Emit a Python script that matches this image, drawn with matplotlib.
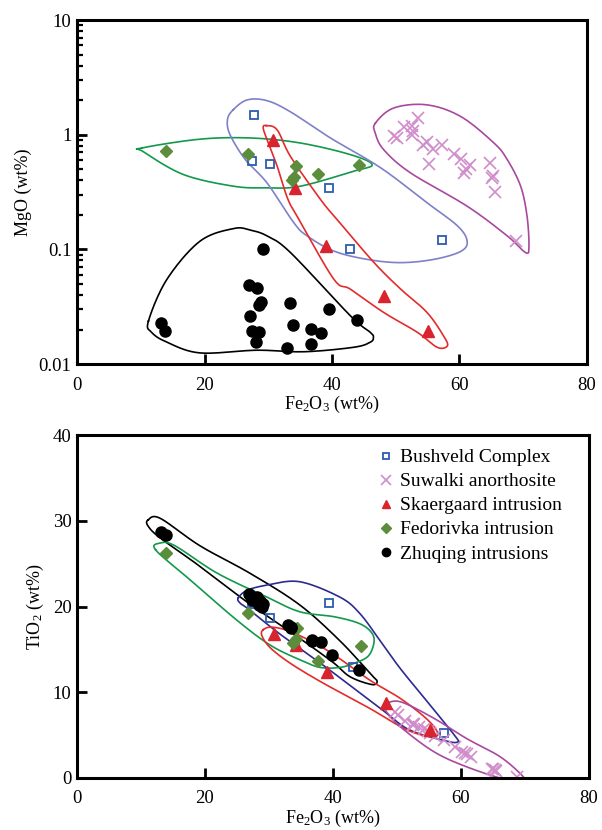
import numpy as np
import matplotlib.pyplot as plt
from matplotlib.lines import Line2D

plt.rcParams['font.family'] = ['Liberation Serif', 'DejaVu Serif']
plt.rcParams['mathtext.fontset'] = 'custom'
plt.rcParams['mathtext.rm'] = 'Liberation Serif'
plt.rcParams['font.size'] = 13

# ---- data: Fe2O3 vs MgO (log) ----
bush_fe = [27.7, 27.4, 30.3, 39.6, 42.9, 57.3]
bush_mg = [1.47, 0.586, 0.552, 0.344, 0.100, 0.120]

suw_fe = [53.5, 51.3, 52.6, 52.7, 49.7, 50.2, 52.6, 54.2, 54.9, 55.9, 57.3,
          59.1, 60.2, 61.6, 61.0, 60.7, 55.2, 64.8, 65.3, 65.1, 65.5, 68.8]
suw_mg = [1.40, 1.17, 1.18, 1.07, 0.97, 0.94, 1.00, 0.82, 0.87, 0.75, 0.82,
          0.68, 0.61, 0.54, 0.50, 0.46, 0.56, 0.57, 0.44, 0.42, 0.315, 0.118]

ska_fe = [30.8, 34.2, 39.1, 48.1, 55.0]
ska_mg = [0.905, 0.346, 0.108, 0.039, 0.0194]

fed_fe = [13.9, 26.8, 34.4, 37.8, 34.1, 33.7, 44.2]
fed_mg = [0.716, 0.68, 0.537, 0.458, 0.429, 0.406, 0.543]

zhu_fe = [13.1, 13.8, 29.1, 26.9, 28.2, 28.9, 28.6, 27.2, 27.4, 28.5,
          28.1, 33.4, 33.9, 33.0, 39.6, 36.7, 38.2, 36.7, 43.9]
zhu_mg = [0.0227, 0.0195, 0.101, 0.0493, 0.0461, 0.0348, 0.0326, 0.0263,
          0.0195, 0.0189, 0.0155, 0.0339, 0.0220, 0.0138, 0.0301, 0.0201,
          0.0188, 0.0150, 0.0243]

# ---- data: Fe2O3 vs TiO2 ----
bush_ti_fe = [27.7, 27.3, 30.2, 39.4, 43.1, 57.4]
bush_ti = [20.35, 20.5, 18.7, 20.4, 13.0, 5.2]

suw_ti = [6.0, 6.7, 6.3, 6.3, 7.7, 7.3, 6.2, 5.7, 5.5, 4.9, 4.4,
          3.6, 3.0, 2.5, 2.8, 2.9, 5.2, 1.1, 0.9, 1.0, 0.8, 0.1]

ska_ti_fe = [30.8, 34.2, 39.0, 48.3, 55.2]
ska_ti = [16.8, 15.5, 12.4, 8.7, 5.6]

fed_ti_fe = [13.9, 26.8, 34.4, 34.2, 37.7, 33.8, 44.4]
fed_ti = [26.3, 19.3, 17.5, 16.2, 13.7, 15.8, 15.4]

zhu_ti_fe = [13.2, 13.9, 29.1, 26.9, 28.1, 28.9, 28.6, 27.2, 27.4, 28.5,
             28.1, 33.4, 33.5, 33.0, 39.8, 36.8, 38.1, 36.7, 44.1]
zhu_ti = [28.7, 28.4, 20.3, 21.5, 20.9, 20.0, 20.6, 21.1, 20.8, 20.2,
          21.1, 17.6, 17.5, 17.8, 14.4, 16.0, 15.9, 16.1, 12.6]

# ---- envelopes (hand-drawn fields) ----
env_top = {
    'black': ([11.2, 14.1, 19.3, 24.6, 27.2, 29.8, 33.5, 42.9, 46.0, 46.5, 46.0,
               43.4, 35.6, 28.2, 19.3, 14.1, 11.7],
              [0.0237, 0.0548, 0.118, 0.152, 0.147, 0.131, 0.0936, 0.0263, 0.0189,
               0.0171, 0.0155, 0.0140, 0.0128, 0.0132, 0.0125, 0.0155, 0.0189]),
    'green': ([10.2, 19.3, 27.2, 35.0, 42.9, 46.3, 43.4, 35.0, 29.8, 24.6, 16.7, 10.4],
              [0.766, 0.914, 0.936, 0.847, 0.670, 0.548, 0.480, 0.355, 0.344,
               0.355, 0.449, 0.711]),
    'lav': ([24.5, 26.7, 29.8, 33.5, 39.7, 47.6, 54.9, 59.7, 61.2, 60.2, 56.0, 50.7,
             45.5, 40.3, 36.1, 34.0, 29.8, 26.4, 24.0, 23.6],
            [1.65, 2.01, 1.98, 1.58, 0.94, 0.516, 0.255, 0.160, 0.118, 0.096, 0.0818,
             0.0766, 0.0818, 0.0966, 0.131, 0.171, 0.380, 0.606, 1.0, 1.35]),
    'red': ([29.7, 31.4, 33.5, 38.2, 40.8, 46.6, 50.8, 54.9, 57.5, 58.1, 56.5, 53.4,
             48.1, 42.9, 40.3, 35.0, 33.1, 31.4, 29.8, 29.2],
            [1.20, 1.10, 0.644, 0.272, 0.182, 0.0766, 0.0449, 0.0282, 0.0176, 0.0144,
             0.0140, 0.0189, 0.0282, 0.0449, 0.0548, 0.175, 0.272, 0.530, 0.905, 1.15]),
    'pink': ([46.8, 49.7, 54.9, 60.2, 65.4, 67.5, 69.6, 70.6, 70.9, 70.4, 67.5, 61.2,
              52.3, 48.1, 46.8],
             [1.26, 1.71, 1.82, 1.44, 0.847, 0.606, 0.355, 0.195, 0.107, 0.0936,
              0.131, 0.238, 0.465, 0.741, 1.03]),
}

env_bot = {
    'black': ([11.1, 13.0, 19.2, 27.0, 34.8, 41.1, 45.8, 46.9, 46.1, 42.7, 40.0,
               34.8, 27.0, 19.2, 13.0, 11.1],
              [30.1, 30.3, 27.1, 23.9, 20.2, 16.0, 12.2, 11.3, 10.9, 11.8, 13.5,
               16.3, 20.3, 24.7, 28.0, 29.4]),
    'green': ([12.3, 17.7, 25.0, 30.2, 34.8, 38.0, 41.1, 43.4, 45.5, 46.4, 46.1, 44.2,
               40.3, 34.8, 29.7, 21.9, 15.3, 13.0],
              [26.6, 23.1, 18.4, 15.5, 13.8, 12.9, 12.9, 13.4, 14.2, 15.7, 16.9, 18.0,
               18.8, 19.4, 21.1, 23.9, 27.1, 27.4]),
    'navy': ([25.2, 26.6, 29.7, 34.8, 41.1, 44.2, 47.3, 50.5, 55.2, 59.2, 59.5, 57.8,
              52.0, 47.8, 39.5, 31.7, 27.0, 25.5],
             [21.0, 21.9, 22.5, 22.9, 21.1, 19.2, 16.1, 12.8, 8.5, 4.8, 4.2, 4.3,
              5.6, 7.9, 12.6, 16.8, 19.6, 20.4]),
    'red': ([29.1, 30.5, 33.3, 37.5, 41.1, 45.8, 50.5, 54.5, 56.3, 55.6, 51.6, 45.8,
             38.4, 33.3, 30.2, 28.9],
            [17.3, 17.6, 17.1, 15.6, 13.9, 11.4, 9.3, 7.0, 5.4, 4.8, 5.6, 8.1,
             11.1, 13.4, 15.2, 16.6]),
    'pink': ([48.1, 50.5, 55.7, 60.9, 66.1, 69.5, 69.6, 67.1, 60.9, 55.7, 50.5, 48.4],
             [8.5, 8.9, 7.0, 4.6, 2.5, 0.35, -0.2, -0.2, 1.3, 3.1, 6.0, 7.7]),
}

env_colors = {'black': 'black', 'green': '#12994a', 'lav': '#7e80c8',
              'navy': '#2b2b90', 'red': '#e32b2b', 'pink': '#a8499e'}


def closed_curve(xs, ys, logy=False, n=20):
    # periodic Catmull-Rom through the outline vertices
    x = np.asarray(xs, float)
    y = np.log10(ys) if logy else np.asarray(ys, float)
    k = len(x)
    ox, oy = [], []
    for i in range(k):
        p0 = np.array([x[i - 1], y[i - 1]])
        p1 = np.array([x[i], y[i]])
        p2 = np.array([x[(i + 1) % k], y[(i + 1) % k]])
        p3 = np.array([x[(i + 2) % k], y[(i + 2) % k]])
        for t in np.linspace(0, 1, n, endpoint=False):
            pt = 0.5 * ((2 * p1) + (-p0 + p2) * t
                        + (2 * p0 - 5 * p1 + 4 * p2 - p3) * t ** 2
                        + (-p0 + 3 * p1 - 3 * p2 + p3) * t ** 3)
            ox.append(pt[0])
            oy.append(pt[1])
    ox.append(ox[0])
    oy.append(oy[0])
    oy = np.array(oy)
    return np.array(ox), (10 ** oy if logy else oy)


def style_axes(ax):
    for s in ax.spines.values():
        s.set_linewidth(2.2)
    ax.tick_params(which='both', direction='in', top=False, right=False,
                   labelsize=13.5)
    ax.tick_params(axis='x', pad=9)
    ax.tick_params(axis='y', pad=4)
    ax.tick_params(which='major', length=7, width=2)
    ax.tick_params(which='minor', length=4, width=1.6)


def scatter_sets(ax, sets):
    ax.plot(sets[0][0], sets[0][1], 's', ms=6, mfc='none', mec='#2d5cb0', mew=1.3,
            ls='none', label='Bushveld Complex')
    ax.plot(sets[1][0], sets[1][1], 'x', ms=8, mec='#d08ccb', mew=1.2,
            ls='none', label='Suwalki anorthosite')
    ax.plot(sets[2][0], sets[2][1], '^', ms=8, color='#d9232e', ls='none',
            label='Skaergaard intrusion')
    ax.plot(sets[3][0], sets[3][1], 'D', ms=6.5, color='#5b8d3c', ls='none',
            label='Fedorivka intrusion')
    ax.plot(sets[4][0], sets[4][1], 'o', ms=8, color='black', ls='none',
            label='Zhuqing intrusions')


fig = plt.figure(figsize=(6.02, 8.30), dpi=100)
ax1 = fig.add_axes([0.128, 0.5614, 0.847, 0.4145])
ax2 = fig.add_axes([0.128, 0.0627, 0.850, 0.413])

# top panel
for key, (ex, ey) in env_top.items():
    cx, cy = closed_curve(ex, ey, logy=True)
    ax1.plot(cx, cy, color=env_colors[key], lw=1.2)
scatter_sets(ax1, [(bush_fe, bush_mg), (suw_fe, suw_mg), (ska_fe, ska_mg),
                   (fed_fe, fed_mg), (zhu_fe, zhu_mg)])
ax1.set_yscale('log')
ax1.set_xlim(0, 80)
ax1.set_ylim(0.01, 10)
ax1.set_xticks([0, 20, 40, 60, 80])
ax1.set_yticks([0.01, 0.1, 1, 10])
ax1.set_yticklabels(['0.01', '0.1', '1', '10'])
ax1.set_xlabel('Fe$\\mathregular{_2}$O$\\mathregular{_3}$ (wt%)', fontsize=13, labelpad=0)
ax1.set_ylabel('MgO (wt%)', fontsize=13, labelpad=5)
style_axes(ax1)

# bottom panel
for key, (ex, ey) in env_bot.items():
    cx, cy = closed_curve(ex, ey)
    ax2.plot(cx, cy, color=env_colors[key], lw=1.2)
scatter_sets(ax2, [(bush_ti_fe, bush_ti), (suw_fe, suw_ti), (ska_ti_fe, ska_ti),
                   (fed_ti_fe, fed_ti), (zhu_ti_fe, zhu_ti)])
ax2.set_xlim(0, 80)
ax2.set_ylim(0, 40)
ax2.set_xticks([0, 20, 40, 60, 80])
ax2.set_yticks([0, 10, 20, 30, 40])
ax2.set_xlabel('Fe$\\mathregular{_2}$O$\\mathregular{_3}$ (wt%)', fontsize=13, labelpad=0)
ax2.set_ylabel('TiO$\\mathregular{_2}$ (wt%)', fontsize=13, labelpad=5)
style_axes(ax2)

handles = [
    Line2D([], [], marker='s', ms=5, mfc='none', mec='#2d5cb0', mew=1.3, ls='none'),
    Line2D([], [], marker='x', ms=7, mec='#d08ccb', mew=1.2, ls='none'),
    Line2D([], [], marker='^', ms=6, color='#d9232e', ls='none'),
    Line2D([], [], marker='D', ms=5, color='#5b8d3c', ls='none'),
    Line2D([], [], marker='o', ms=6, color='black', ls='none'),
]
labels = ['Bushveld Complex', 'Suwalki anorthosite', 'Skaergaard intrusion',
          'Fedorivka intrusion', 'Zhuqing intrusions']
ax2.legend(handles, labels, loc='upper right', frameon=False, fontsize=14,
           handletextpad=0.1, handlelength=1.3, labelspacing=0.33,
           borderaxespad=0.3, bbox_to_anchor=(0.975, 1.0))

fig.savefig('out.png', dpi=100)
